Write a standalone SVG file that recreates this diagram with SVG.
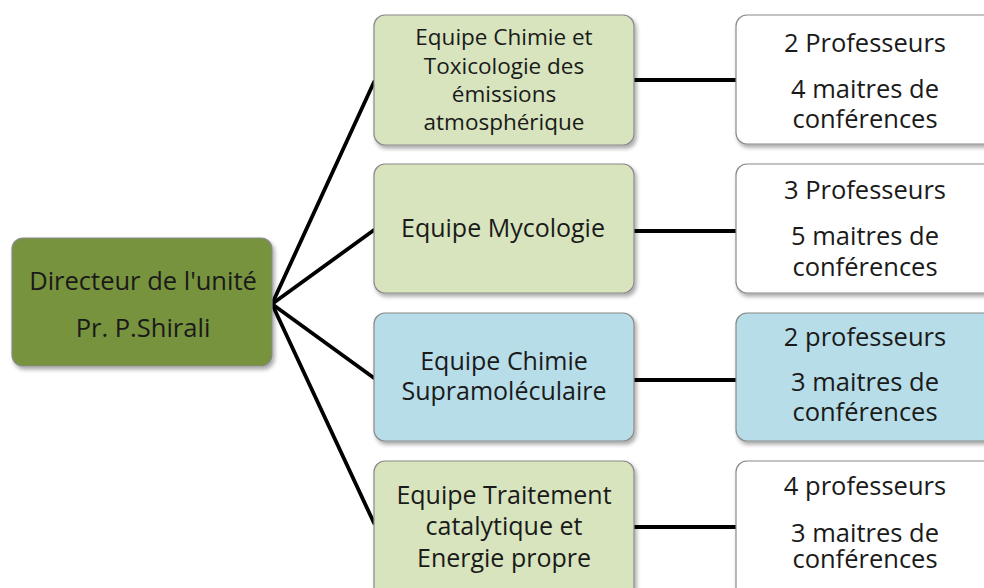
<svg xmlns="http://www.w3.org/2000/svg" width="984" height="588" viewBox="0 0 984 588">
<defs>
<filter id="sh" x="-10%" y="-10%" width="130%" height="130%">
<feGaussianBlur in="SourceAlpha" stdDeviation="2"/>
<feOffset dx="2" dy="3" result="b"/>
<feComponentTransfer><feFuncA type="linear" slope="0.35"/></feComponentTransfer>
<feMerge><feMergeNode/><feMergeNode in="SourceGraphic"/></feMerge>
</filter>
</defs>
<style>
.box{stroke:#8a8a8a;stroke-width:1.2;filter:url(#sh)}
.dir{fill:#77933C}
.grn{fill:#D7E4BD}
.blu{fill:#B7DDE8}
.wht{fill:#FFFFFF}
text{font-family:"Open Sans","Liberation Sans",sans-serif;fill:#1a1a1a;text-anchor:middle}
.t1{font-size:22.5px}
.t2{font-size:25px}
.t3{font-size:25.5px}
.conn line{stroke:#000;stroke-width:3.8;stroke-linecap:round}
</style>
<rect width="984" height="588" fill="#ffffff"/>
<g id="connectors" class="conn">
<line x1="272" y1="304" x2="374" y2="82"/>
<line x1="272" y1="304" x2="374" y2="230"/>
<line x1="272" y1="304" x2="374" y2="378"/>
<line x1="272" y1="304" x2="374" y2="523"/>
<line x1="634" y1="80" x2="736" y2="80"/>
<line x1="634" y1="231" x2="736" y2="231"/>
<line x1="634" y1="380" x2="736" y2="380"/>
<line x1="634" y1="527" x2="736" y2="527"/>
</g>
<g id="directeur">
<rect class="box dir" x="12" y="238" width="260" height="128" rx="11"/>
<text class="t3" x="143" y="290">Directeur de l'unité</text>
<text class="t3" x="143" y="337">Pr. P.Shirali</text>
</g>
<g id="equipe1">
<rect class="box grn" x="374" y="15" width="260" height="130" rx="11"/>
<text class="t1" x="504" y="45">Equipe Chimie  et</text>
<text class="t1" x="504" y="74">Toxicologie des</text>
<text class="t1" x="504" y="102">émissions</text>
<text class="t1" x="504" y="130">atmosphérique</text>
</g>
<g id="equipe2">
<rect class="box grn" x="374" y="164" width="260" height="129" rx="11"/>
<text class="t2" x="503" y="237">Equipe Mycologie</text>
</g>
<g id="equipe3">
<rect class="box blu" x="374" y="313" width="260" height="128" rx="11"/>
<text class="t2" x="504" y="370">Equipe Chimie</text>
<text class="t2" x="504" y="400">Supramoléculaire</text>
</g>
<g id="equipe4">
<rect class="box grn" x="374" y="461" width="260" height="140" rx="11"/>
<text class="t2" x="504" y="504">Equipe Traitement</text>
<text class="t2" x="504" y="535">catalytique et</text>
<text class="t2" x="504" y="567">Energie propre</text>
</g>
<g id="effectif1">
<rect class="box wht" x="736" y="15" width="270" height="129" rx="11"/>
<text class="t3" x="865" y="52">2 Professeurs</text>
<text class="t3" x="865" y="98">4 maitres de</text>
<text class="t3" x="865" y="128">conférences</text>
</g>
<g id="effectif2">
<rect class="box wht" x="736" y="164" width="270" height="129" rx="11"/>
<text class="t3" x="865" y="199">3 Professeurs</text>
<text class="t3" x="865" y="245">5 maitres de</text>
<text class="t3" x="865" y="276">conférences</text>
</g>
<g id="effectif3">
<rect class="box blu" x="736" y="313" width="270" height="128" rx="11"/>
<text class="t3" x="865" y="346">2 professeurs</text>
<text class="t3" x="865" y="391">3 maitres de</text>
<text class="t3" x="865" y="421">conférences</text>
</g>
<g id="effectif4">
<rect class="box wht" x="736" y="461" width="270" height="140" rx="11"/>
<text class="t3" x="865" y="495">4 professeurs</text>
<text class="t3" x="865" y="542">3 maitres de</text>
<text class="t3" x="865" y="568">conférences</text>
</g>
</svg>
